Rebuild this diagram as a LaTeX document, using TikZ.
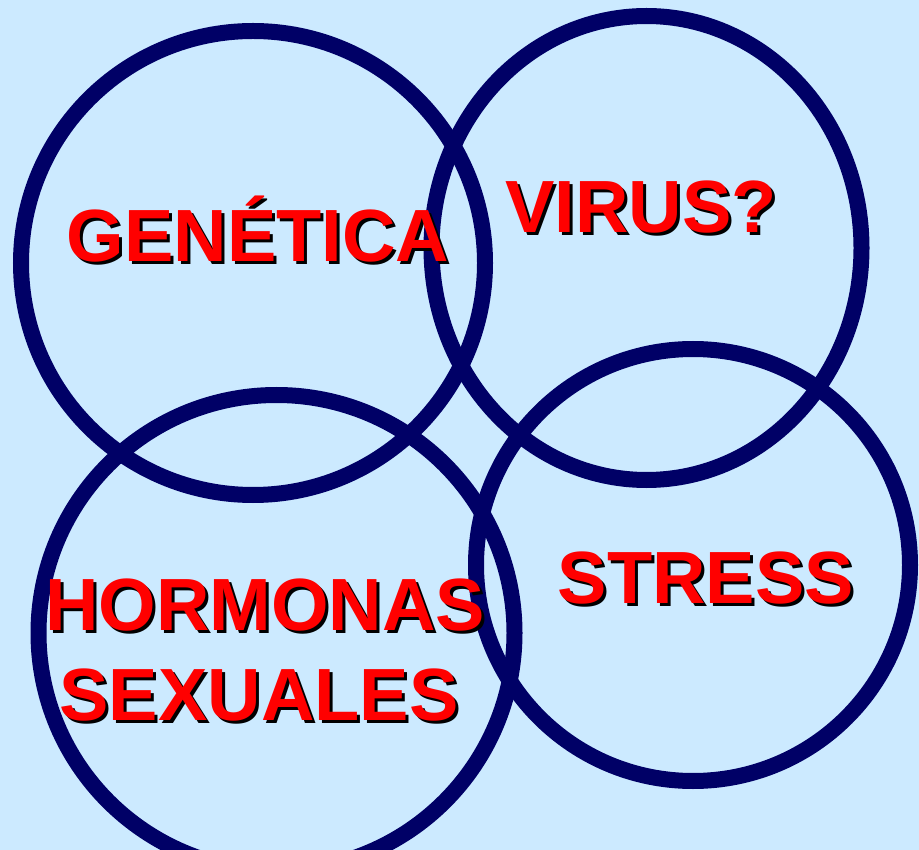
\documentclass[tikz,border=0pt]{standalone}
\usepackage{fontspec}
\setmainfont{Liberation Sans}
\definecolor{bgblue}{RGB}{204,234,255}
\definecolor{ringnavy}{RGB}{0,0,102}
\definecolor{lblred}{RGB}{255,0,0}
\tikzset{
  ring/.style={draw=ringnavy, line width=16pt},
  lbl/.style={font=\fontsize{74}{88}\selectfont\bfseries, text=lblred, inner sep=0pt, anchor=base},
  lblshadow/.style={lbl, text=black}
}
\begin{document}
\begin{tikzpicture}[x=1pt,y=-1pt]
\fill[bgblue] (0,0) rectangle (919,850);
\useasboundingbox (0,0) rectangle (919,850);
% rings
\draw[ring] (253,263) ellipse [x radius=232pt, y radius=232pt];
\draw[ring] (646.5,248) ellipse [x radius=215pt, y radius=232pt];
\draw[ring] (276.5,633) ellipse [x radius=238pt, y radius=238pt];
\draw[ring] (693,565) ellipse [x radius=217pt, y radius=216pt];
% labels with shadows
\node[lblshadow] (gens) at (261,265) {GENÉTICA};
\node[lbl] (gen) at (258,262) {GENÉTICA};
\node[lblshadow] (virs) at (644,236) {VIRUS?};
\node[lbl] (vir) at (641,233) {VIRUS?};
\node[lblshadow] (hors) at (268,633) {HORMONAS};
\node[lbl] (hor) at (265,630) {HORMONAS};
\node[lblshadow] (sexs) at (262,723) {SEXUALES};
\node[lbl] (sex) at (259,720) {SEXUALES};
\node[lblshadow] (strs) at (709,606) {STRESS};
\node[lbl] (str) at (706,603) {STRESS};
\end{tikzpicture}
\end{document}
